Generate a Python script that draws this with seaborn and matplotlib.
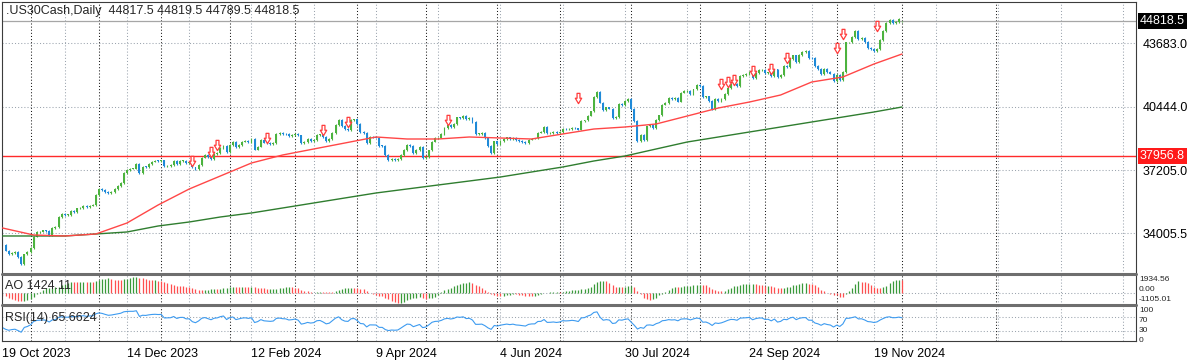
import numpy as np
import pandas as pd
import matplotlib
matplotlib.use("Agg")
import matplotlib.pyplot as plt
from matplotlib.path import Path
from matplotlib.lines import Line2D
import seaborn as sns

sns.set_style("white")
plt.rcParams["font.family"] = ["Liberation Sans", "DejaVu Sans"]

# Daily closes of .US30Cash, 19 Oct 2023 .. 2 Dec 2024
closes = [
    # Oct 2023
    33414, 33127, 32936, 33002, 33035, 32785, 32418, 32929, 33052,
    # Nov 2023
    33275, 33839, 34061, 34095, 34153, 34112, 33891, 34283, 34337, 34828, 34991,
    34945, 34947, 35151, 35088, 35273, 35300, 35390, 35333, 35417, 35430, 35950,
    # Dec 2023
    36245, 36204, 36124, 36054, 36117, 36248, 36404, 36577, 37090, 37248, 37306,
    37306, 37557, 37082, 37404, 37386, 37545, 37657, 37710, 37690,
    # Jan 2024
    37715, 37431, 37440, 37466, 37683, 37525, 37696, 37711, 37593, 37600, 37361,
    37267, 37469, 37864, 38001, 37906, 37807, 38050, 38109, 38333, 38467, 38150,
    # Feb 2024
    38520, 38654, 38380, 38521, 38677, 38726, 38672, 38797, 38273, 38424, 38773,
    38628, 38600, 38564, 38612, 39069, 39131, 39069, 39053, 38949, 38996,
    # Mar 2024
    39087, 38990, 38585, 38662, 38791, 38723, 38770, 39005, 39043, 38906, 38715,
    38790, 39110, 39512, 39781, 39476, 39313, 39282, 39760, 39807,
    # Apr 2024
    39567, 39170, 39127, 38597, 38904, 38892, 38883, 38461, 38459, 37983, 37735,
    37799, 37753, 37775, 37986, 38240, 38504, 38461, 38086, 38240, 38386, 37816,
    # May 2024
    37903, 38226, 38676, 38852, 38884, 39056, 39388, 39513, 39432, 39558, 39908,
    39869, 40003, 39807, 39873, 39671, 39065, 39070, 39100, 38853, 38441, 38112, 38686,
    # Jun 2024
    38571, 38711, 38807, 38886, 38799, 38868, 38747, 38712, 38647, 38589, 38778,
    38834, 38840, 39135, 39150, 39411, 39112, 39127, 39164, 39118,
    # Jul 2024
    39169, 39331, 39308, 39330, 39375, 39344, 39291, 39721, 39753, 40001, 40212,
    40954, 41198, 40665, 40288, 40415, 40358, 39854, 39935, 40590, 40540, 40743, 40843,
    # Aug 2024
    40347, 39737, 38703, 38997, 38763, 39446, 39498, 39357, 39766, 40009, 40564,
    40660, 40897, 40835, 40890, 40713, 41175, 41240, 41250, 41091, 41335, 41563,
    # Sep 2024
    41500, 40937, 40975, 40756, 40345, 40830, 40737, 40861, 41097, 41394, 41622,
    41606, 41504, 42025, 42063, 42125, 42208, 41915, 42175, 42313, 42330,
    # Oct 2024
    42156, 42197, 42012, 42352, 41954, 42080, 42512, 42454, 42864, 43065, 42740,
    43077, 43239, 43276, 42931, 42925, 42514, 42374, 42114, 42387, 42233, 42142, 41763,
    # Nov 2024
    42052, 41795, 42222, 43729, 43729, 43989, 44293, 43911, 43958, 43751, 43445,
    43390, 43269, 43408, 43870, 44297, 44736, 44860, 44722, 44750, 44911,
    # Dec 2024
    44818.5,
]
# closes before the first visible bar, only used to warm up AO / RSI
warmup_closes = [
    34837, 34840, 34641, 34443, 34500, 34576, 34663, 34646, 34576, 34907, 34618,
    34624, 34518, 34441, 34071, 33963, 34007, 33618, 33551, 33667, 33508, 33433,
    33002, 33129, 33120, 33407, 33605, 33739, 33804, 33631, 33670, 33985, 33998, 33665,
]
last_ohlc = [44817.5, 44819.5, 44789.5, 44818.5]
holidays = ["2023-12-25", "2024-01-01", "2024-03-29"]

# moving averages read every 10 bars
ma_bars = [0, 10, 20, 30, 40, 50, 60, 70, 80, 90, 100, 110, 120, 130, 140, 150,
           160, 170, 180, 190, 200, 210, 220, 230, 240, 250, 260, 270, 280, 289]
sma50 = [34276, 33920, 33869, 33971, 34531, 35448, 36263, 36925, 37587, 37994,
         38300, 38605, 38911, 38809, 38809, 38911, 38860, 38809, 39064, 39318,
         39420, 39573, 39980, 40388, 40693, 41050, 41712, 41967, 42629, 43138]
sma200 = [33869, 33869, 33869, 33971, 34073, 34378, 34582, 34837, 35041, 35295,
          35550, 35805, 36059, 36263, 36467, 36670, 36874, 37129, 37383, 37689,
          37943, 38300, 38656, 38911, 39166, 39420, 39675, 39929, 40184, 40439]

# signal arrows
arrow_bars = [61, 67, 69, 85, 103, 111, 143, 185, 231, 233, 235, 241, 247, 252, 268, 270, 281]
arrow_prices = [37689, 38172, 38503, 38860, 39267, 39675, 39777, 40872, 41610, 41712,
                41814, 42272, 42374, 42934, 43444, 44157, 44564]

support_level = 37956.8
price_ticks = [34005.5, 37205.0, 40444.0, 43683.0]
ao_labels = ["1934.56", "0.00", "-1105.01"]
rsi_labels = ["100", "70", "30", "0"]

# ---- derived series
n = len(closes)
days = pd.bdate_range("2023-10-19", "2024-12-31")
days = days[~days.isin(pd.to_datetime(holidays))]
dates = days[:n]

c = np.array(closes, dtype=float)
o = np.r_[warmup_closes[-1], c[:-1]]
o[-1] = last_ohlc[0]
hi = np.maximum(o, c) + 45
lo = np.minimum(o, c) - 45
hi[-1], lo[-1] = last_ohlc[1], last_ohlc[2]

allc = pd.Series(warmup_closes + closes, dtype=float)
k = len(warmup_closes)
ao_full = allc.rolling(5).mean() - allc.rolling(34).mean()
ao = ao_full.iloc[k:].to_numpy()
ao_prev = ao_full.shift(1).iloc[k:].to_numpy()
delta = allc.diff()
gain = delta.clip(lower=0).ewm(alpha=1 / 14, adjust=False).mean()
loss = (-delta.clip(upper=0)).ewm(alpha=1 / 14, adjust=False).mean()
rsi = (100 - 100 / (1 + gain / loss)).iloc[k:].to_numpy()

bars = np.arange(n)

# ---- layout (pixel based)
W, H = 1200, 364
fig = plt.figure(figsize=(12, 3.64), dpi=100)
fig.patch.set_facecolor("white")


def fx(px):
    return px / W


def fy(py):
    return 1 - py / H


def panel(top, bottom):
    a = fig.add_axes([fx(2), fy(bottom), fx(1136 - 2), (bottom - top) / H])
    a.set_xlim(-0.16, 364.18)
    a.set_facecolor("white")
    for s in a.spines.values():
        s.set_color("#3c3c3c")
        s.set_linewidth(0.8)
    return a


ax = panel(1.5, 274)
ax_ao = panel(274, 305)
ax_rsi = panel(305, 341)

ax.set_ylim(31933, 45812)
ax_ao.set_ylim(-1268, 2097)
ax_rsi.set_ylim(1, 104)

dot = (0, (1, 2))
grid_col = "#9ba4ae"
seps = [i for i in range(1, n) if dates[i].month != dates[i - 1].month] + [319.3]
for a in (ax, ax_ao, ax_rsi):
    for g in range(0, 361, 20):
        a.axvline(g, color=grid_col, lw=0.75, ls=dot, zorder=0)
    for s in seps:
        a.axvline(s, color="#1a1a1a", lw=0.75, ls=dot, zorder=0.5)
for p in price_ticks:
    ax.axhline(p, color=grid_col, lw=0.75, ls=dot, zorder=0)
ax_ao.axhline(0, color=grid_col, lw=0.75, ls=dot, zorder=0)
for lvl in (70, 30):
    ax_rsi.axhline(lvl, color=grid_col, lw=0.75, ls=dot, zorder=0)

# ---- main panel
ax.axhline(last_ohlc[3], color="#a6a6a6", lw=0.9, zorder=1)
ax.axhline(support_level, color="#ff2a2a", lw=1.0, zorder=1)

up_col, dn_col = "#4cb33f", "#1f8ad8"
cols = np.where(c >= o, up_col, dn_col)
body_lo = np.minimum(o, c)
body_h = np.maximum(np.abs(c - o), 25)
ax.vlines(bars, lo, hi, colors=cols, lw=0.8, zorder=2)
ax.bar(bars, body_h, bottom=body_lo, width=0.62, color=cols, linewidth=0, zorder=2)

sns.lineplot(x=ma_bars, y=sma200, ax=ax, color="#2f7d2f", linewidth=1.0, zorder=3)
sns.lineplot(x=ma_bars, y=sma50, ax=ax, color="#ff4747", linewidth=1.0, zorder=3)

arrow = Path([(-0.28, 1), (0.28, 1), (0.28, 0.05), (0.62, 0.05), (0, -1),
              (-0.62, 0.05), (-0.28, 0.05), (-0.28, 1)],
             [Path.MOVETO] + [Path.LINETO] * 6 + [Path.CLOSEPOLY])
ax.scatter(arrow_bars, arrow_prices, marker=arrow, s=55, facecolors="white",
           edgecolors="#ff3b3b", linewidths=0.9, zorder=4)

ax.yaxis.tick_right()
ax.set_yticks(price_ticks)
ax.set_yticklabels([f"{p:.1f}" for p in price_ticks])
ax.tick_params(axis="y", length=0, pad=4.5, labelsize=9, colors="black")
ax.set_xticks([])
ax.set_xlabel("")
ax.set_ylabel("")

tag = dict(transform=ax.get_yaxis_transform(), va="center", ha="left",
           fontsize=9, color="white", clip_on=False, zorder=6)
ax.text(1.0 + 4 / 1134, last_ohlc[3], f"{last_ohlc[3]:.1f}",
        bbox=dict(boxstyle="square,pad=0.15", fc="black", ec="none"), **tag)
ax.text(1.0 + 4 / 1134, support_level, f"{support_level:.1f}",
        bbox=dict(boxstyle="square,pad=0.15", fc="#ff1a1a", ec="none"), **tag)

title = ".US30Cash,Daily  " + " ".join(f"{v:.1f}" for v in last_ohlc)
fig.text(fx(6), fy(11), title, va="center", ha="left", fontsize=9)

# ---- AO panel
ao_cols = np.where(ao > ao_prev, "#3a9a3a", "#ff4f4f")
ax_ao.vlines(bars, 0, ao, colors=ao_cols, lw=0.9, zorder=2)
ax_ao.set_xticks([])
ax_ao.set_yticks([])
fig.text(fx(5), fy(286), "AO 1424.11", va="center", ha="left", fontsize=9)
for lbl, ypx in zip(ao_labels, [279.5, 289.5, 299.5]):
    fig.text(fx(1139), fy(ypx), lbl, va="center", ha="left", fontsize=6)

# ---- RSI panel
sns.lineplot(x=bars, y=rsi, ax=ax_rsi, color="#3d9bf0", linewidth=0.8, zorder=2)
ax_rsi.set_yticks([])
ax_rsi.set_ylabel("")
fig.text(fx(5), fy(318), "RSI(14) 65.6624", va="center", ha="left", fontsize=9)
for lbl, ypx in zip(rsi_labels, [310, 320, 330, 340]):
    fig.text(fx(1139), fy(ypx), lbl, va="center", ha="left", fontsize=6)

tick_pos = list(range(0, n, 40))
ax_rsi.set_xticks(tick_pos)
ax_rsi.set_xticklabels([f"{dates[i].day} {dates[i]:%b %Y}" for i in tick_pos])
for t in ax_rsi.get_xticklabels():
    t.set_ha("left")
ax_rsi.tick_params(axis="x", length=3, width=0.8, pad=2, labelsize=9,
                   direction="out", colors="black")
ax_rsi.set_xlim(-0.16, 364.18)

# panel separators
for ypx in (274, 305):
    fig.add_artist(Line2D([fx(2), fx(1136)], [fy(ypx), fy(ypx)],
                          transform=fig.transFigure, color="#6e6e6e", lw=2.2))

fig.savefig("out.png", dpi=100, facecolor="white")
